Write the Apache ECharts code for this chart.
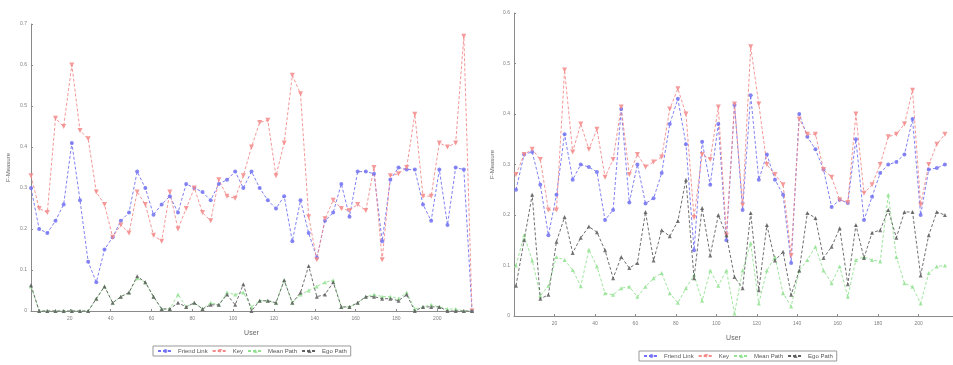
<!DOCTYPE html>
<html>
<head>
<meta charset="utf-8">
<script src="https://cdn.jsdelivr.net/npm/echarts@6/dist/echarts.min.js"></script>
<style>
  html, body { margin: 0; padding: 0; background: #fff; }
  #main { width: 953px; height: 365px; }
</style>
</head>
<body>
<div id="main"></div>
<script>
// user index on the x axis
const usersLeft = [1,5,9,13,17,21,25,29,33,37,41,45,49,53,57,61,65,69,73,77,81,85,89,93,97,101,105,109,113,117,121,125,129,133,137,141,145,149,153,157,161,165,169,173,177,181,185,189,193,197,201,205,209,213,217];
const usersRight = [1,5,9,13,17,21,25,29,33,37,41,45,49,53,57,61,65,69,73,77,81,85,89,93,97,101,105,109,113,117,121,125,129,133,137,141,145,149,153,157,161,165,169,173,177,181,185,189,193,197,201,205,209,213];
const xTicks = [20,40,60,80,100,120,140,160,180,200];
const names = ['Friend Link', 'Key', 'Mean Path', 'Ego Path'];

// left panel
const leftFriend = [0.30,0.20,0.19,0.22,0.26,0.41,0.27,0.12,0.07,0.15,
  0.18,0.22,0.24,0.34,0.30,0.235,0.26,0.28,0.24,0.31,
  0.30,0.29,0.27,0.31,0.32,0.34,0.30,0.34,0.30,0.27,
  0.25,0.28,0.17,0.27,0.19,0.13,0.22,0.24,0.31,0.23,
  0.34,0.34,0.335,0.17,0.32,0.35,0.345,0.345,0.26,0.22,
  0.345,0.21,0.35,0.345,0.0];
const leftKey = [0.33,0.25,0.24,0.47,0.45,0.60,0.44,0.42,0.29,0.26,
  0.18,0.21,0.19,0.29,0.26,0.185,0.17,0.29,0.20,0.25,
  0.30,0.24,0.22,0.32,0.28,0.275,0.33,0.40,0.46,0.465,
  0.33,0.41,0.575,0.53,0.23,0.125,0.225,0.27,0.25,0.245,
  0.26,0.245,0.35,0.125,0.33,0.335,0.35,0.48,0.28,0.28,
  0.41,0.40,0.41,0.67,0.0];
const leftMean = [0.06,0,0,0,0,0,0,0,0.03,0.06,
  0.02,0.035,0.045,0.08,0.07,0.035,0.005,0.005,0.04,0.01,
  0.02,0.005,0.02,0.015,0.045,0.04,0.045,0.01,0.025,0.025,
  0.02,0.075,0.02,0.04,0.05,0.06,0.07,0.075,0.01,0.01,
  0.02,0.035,0.04,0.035,0.035,0.03,0.045,0.005,0.01,0.015,
  0.01,0.005,0.005,0,0];
const leftEgo = [0.063,0,0,0,0,0,0,0,0.03,0.06,
  0.02,0.035,0.045,0.085,0.07,0.035,0.005,0.005,0.02,0.01,
  0.02,0.005,0.015,0.015,0.04,0.015,0.065,0,0.025,0.025,
  0.02,0.075,0.02,0.045,0.11,0.035,0.04,0.07,0.01,0.01,
  0.02,0.035,0.035,0.03,0.03,0.025,0.04,0,0.01,0.01,
  0.01,0,0,0,0];

// right panel
const rightFriend = [0.25,0.32,0.325,0.26,0.16,0.24,0.36,0.27,0.30,0.295,
  0.285,0.19,0.21,0.41,0.225,0.30,0.223,0.233,0.283,0.38,
  0.43,0.34,0.13,0.345,0.26,0.38,0.15,0.418,0.21,0.437,
  0.27,0.32,0.27,0.24,0.105,0.40,0.355,0.33,0.29,0.216,
  0.23,0.224,0.35,0.19,0.236,0.283,0.30,0.305,0.32,0.39,
  0.20,0.29,0.293,0.30];
const rightKey = [0.28,0.32,0.33,0.31,0.21,0.21,0.487,0.325,0.38,0.33,
  0.37,0.275,0.31,0.414,0.28,0.32,0.295,0.305,0.315,0.41,
  0.45,0.40,0.195,0.32,0.31,0.414,0.16,0.42,0.22,0.533,
  0.42,0.30,0.28,0.26,0.12,0.39,0.36,0.36,0.29,0.275,
  0.23,0.225,0.40,0.243,0.26,0.30,0.355,0.36,0.38,0.447,
  0.22,0.30,0.34,0.36];
const rightMean = [0.10,0.16,0.11,0.04,0.06,0.117,0.111,0.091,0.059,0.131,
  0.098,0.045,0.042,0.055,0.058,0.038,0.058,0.075,0.085,0.045,
  0.026,0.055,0.081,0.03,0.09,0.06,0.09,0.005,0.09,0.144,
  0.025,0.09,0.117,0.045,0.019,0.09,0.111,0.137,0.09,0.065,
  0.098,0.038,0.111,0.117,0.111,0.108,0.24,0.117,0.065,0.058,
  0.025,0.085,0.098,0.10];
const rightEgo = [0.06,0.15,0.24,0.034,0.042,0.147,0.196,0.125,0.155,0.177,
  0.166,0.13,0.075,0.117,0.095,0.105,0.206,0.11,0.17,0.158,
  0.188,0.27,0.075,0.214,0.12,0.20,0.16,0.077,0.055,0.204,
  0.051,0.18,0.11,0.127,0.042,0.09,0.204,0.194,0.115,0.137,
  0.174,0.063,0.18,0.115,0.165,0.17,0.21,0.155,0.206,0.206,
  0.08,0.16,0.206,0.20];

const FONT = 'Liberation Sans';
const axisGray = '#8a8a8a';
const labelGray = '#808080';

// colour / marker for each series, same order as names
const looks = [
  { color: '#7272f2', symbol: 'circle', rotate: 0, size: 4 },
  { color: '#f38a8a', symbol: 'triangle', rotate: 180, size: 5 },
  { color: '#92e292', symbol: 'triangle', rotate: 0, size: 4 },
  { color: '#5e5e5e', symbol: 'triangle', rotate: 0, size: 4 },
];

function pairs(xs, ys) {
  return ys.map((v, i) => [xs[i], v]);
}

function makeSeries(idx, xs, lists) {
  return lists.map((ys, k) => ({
    name: names[k],
    type: 'line',
    xAxisIndex: idx,
    yAxisIndex: idx,
    data: pairs(xs, ys),
    symbol: looks[k].symbol,
    symbolSize: looks[k].size,
    symbolRotate: looks[k].rotate,
    showAllSymbol: true,
    animation: false,
    lineStyle: { color: looks[k].color, width: 0.9, type: [3, 2] },
    itemStyle: { color: looks[k].color, opacity: 0.85 },
    z: k === 3 ? 5 : 4,
  }));
}

function xAxisOf(idx, min, max) {
  return {
    gridIndex: idx,
    type: 'value',
    min: min,
    max: max,
    name: 'User',
    nameLocation: 'middle',
    nameGap: 19,
    nameTextStyle: { fontFamily: FONT, fontSize: 7, color: '#666' },
    splitLine: { show: false },
    axisLine: { lineStyle: { color: axisGray, width: 1 } },
    axisTick: { inside: true, length: 2, lineStyle: { color: axisGray }, customValues: xTicks },
    axisLabel: { fontFamily: FONT, fontSize: 5, color: labelGray, margin: 5, customValues: xTicks },
  };
}

function yAxisOf(idx, max, gap) {
  return {
    gridIndex: idx,
    type: 'value',
    min: 0,
    max: max,
    interval: 0.1,
    name: 'F-Measure',
    nameLocation: 'middle',
    nameRotate: 90,
    nameGap: gap,
    nameTextStyle: { fontFamily: FONT, fontSize: 6, color: '#666' },
    splitLine: { show: false },
    axisLine: { show: true, lineStyle: { color: axisGray, width: 1 } },
    axisTick: { show: true, inside: true, length: 2, lineStyle: { color: axisGray } },
    axisLabel: {
      fontFamily: FONT, fontSize: 5, color: labelGray, margin: 4,
      formatter: (v) => (v === 0 ? '0' : String(Math.round(v * 10) / 10)),
    },
  };
}

function legendOf(left, top) {
  return {
    left: left,
    top: top,
    orient: 'horizontal',
    data: names,
    itemWidth: 15,
    itemHeight: 5,
    itemGap: 4,
    padding: [2, 4],
    borderColor: '#999',
    borderWidth: 1,
    backgroundColor: '#fff',
    textStyle: { fontFamily: FONT, fontSize: 6, color: '#555' },
  };
}

const chart = echarts.init(document.getElementById('main'), null, { renderer: 'canvas' });
chart.setOption({
  backgroundColor: '#fff',
  animation: false,
  grid: [
    { left: 31, right: 481, top: 24, bottom: 54 },
    { left: 514, right: -14, top: 13, bottom: 49 },
  ],
  xAxis: [xAxisOf(0, 1, 217), xAxisOf(1, 0, 217)],
  yAxis: [yAxisOf(0, 0.7, 20), yAxisOf(1, 0.6, 19)],
  legend: [legendOf(153, 346), legendOf(639, 351)],
  series: [
    ...makeSeries(0, usersLeft, [leftFriend, leftKey, leftMean, leftEgo]),
    ...makeSeries(1, usersRight, [rightFriend, rightKey, rightMean, rightEgo]),
  ],
});
</script>
</body>
</html>
